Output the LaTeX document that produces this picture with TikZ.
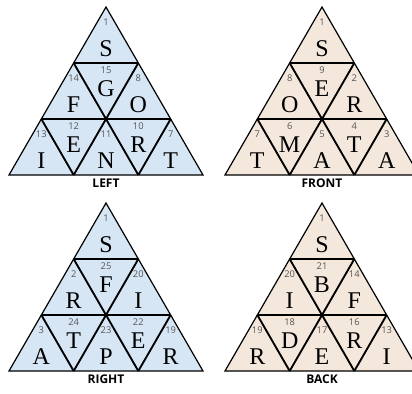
\documentclass[tikz,border=0pt]{standalone}
\usepackage{fontspec}
\setmainfont{Liberation Serif}
\setsansfont{Open Sans}
\usepackage{xcolor}
\usepackage{tikz}
\usetikzlibrary{calc}

\definecolor{faceblue}{RGB}{214,230,245}
\definecolor{facesand}{RGB}{244,232,220}
\definecolor{numgray}{RGB}{85,85,85}

\tikzset{
  outline/.style={draw=black, line width=0.9pt},
  cellgrid/.style={draw=black, line width=1.4pt},
  letter/.style={font=\fontsize{18}{18}\selectfont, inner sep=0pt},
  num/.style={font=\sffamily\fontsize{7}{7}\selectfont, text=numgray, inner sep=0pt},
  facelabel/.style={font=\sffamily\bfseries\fontsize{9}{10}\selectfont, inner sep=0pt}
}

% cell positions inside one face (apex at origin)
\newcommand{\cellx}{{0,-32.33,0,32.33,-64.67,-32.33,0,32.33,64.67}}
\newcommand{\numy}{{15,71,63.5,71,127,119.5,127,119.5,127}}
\newcommand{\lety}{{42,98,82,98,154,138,154,138,154}}

% #1 name, #2/#3 apex, #4 fill, #5 label, #6 cells (number/letter)
\newcommand{\drawface}[6]{%
  \begin{scope}[shift={(#2,#3)}]
    \fill[#4] (0,0) -- (97,168) -- (-97,168) -- cycle;
    \draw[cellgrid] (-32.33,56) -- (32.33,56) (-64.67,112) -- (64.67,112)
      (-32.33,56) -- (32.33,168) (32.33,56) -- (-32.33,168)
      (-64.67,112) -- (-32.33,168) (64.67,112) -- (32.33,168);
    \draw[outline] (0,0) -- (97,168) -- (-97,168) -- cycle;
    \foreach \n/\l [count=\i] in {#6} {
      \pgfmathsetmacro\cx{\cellx[\i-1]}
      \pgfmathsetmacro\ny{\numy[\i-1]}
      \pgfmathsetmacro\ly{\lety[\i-1]}
      \node[num] (#1-n\i) at (\cx,\ny) {\n};
      \node[letter] (#1-l\i) at (\cx,\ly) {\l};
    }
    \node[facelabel] (#1-label) at (0,176.5) {#5};
  \end{scope}
}

\begin{document}
\begin{tikzpicture}[x=0.75pt, y=-0.75pt]
  \clip (0,0) rectangle (412,394);
  \drawface{left}{106}{7}{faceblue}{LEFT}%
    {1/S, 14/F, 15/G, 8/O, 13/I, 12/E, 11/N, 10/R, 7/T}
  \drawface{front}{322}{7}{facesand}{FRONT}%
    {1/S, 8/O, 9/E, 2/R, 7/T, 6/M, 5/A, 4/T, 3/A}
  \drawface{right}{106}{203}{faceblue}{RIGHT}%
    {1/S, 2/R, 25/F, 20/I, 3/A, 24/T, 23/P, 22/E, 19/R}
  \drawface{back}{322}{203}{facesand}{BACK}%
    {1/S, 20/I, 21/B, 14/F, 19/R, 18/D, 17/E, 16/R, 13/I}
\end{tikzpicture}
\end{document}
